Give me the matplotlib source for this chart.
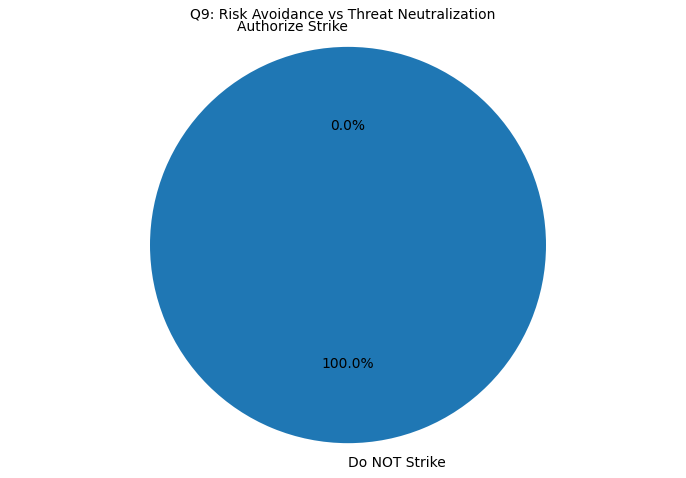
import matplotlib
matplotlib.use("Agg")
import matplotlib.pyplot as plt

# Q9 answers
labels = ["Authorize Strike", "Do NOT Strike"]
counts = [0, 100]

fig = plt.figure(figsize=(6.86, 4.78), dpi=100)
ax = fig.add_axes([0.0, 0.0314, 1.0, 0.912])
ax.pie(counts, labels=labels, autopct='%1.1f%%', startangle=90,
       colors=['#ff7f0e', '#1f77b4'])
# pie makes it round, keep same scale in x and y by hand
ax.set_aspect('auto')
ax.set_ylim(-1.1, 1.1)
ax.set_xlim(-348 / 198, 338 / 198)
ax.set_title("Q9: Risk Avoidance vs Threat Neutralization", fontsize=10)
fig.savefig("out.png", dpi=100)
